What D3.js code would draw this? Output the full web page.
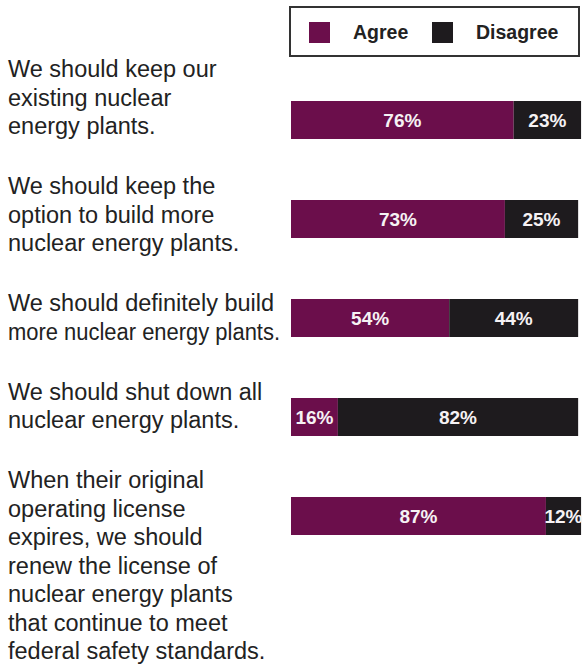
<!DOCTYPE html>
<html>
<head>
<meta charset="utf-8">
<script src="https://cdn.jsdelivr.net/npm/d3@7"></script>
<style>
  body { margin: 0; background: #fff; }
  svg { display: block; font-family: "Liberation Sans", Arial, Helvetica, sans-serif; }
</style>
</head>
<body>
<div id="chart"></div>
<script>
// survey statements, one entry per line of wrapped text
var statements = [
  ["We should keep our", "existing nuclear", "energy plants."],
  ["We should keep the", "option to build more", "nuclear energy plants."],
  ["We should definitely build", "more nuclear energy plants."],
  ["We should shut down all", "nuclear energy plants."],
  ["When their original", "operating license", "expires, we should", "renew the license of", "nuclear energy plants", "that continue to meet", "federal safety standards."]
]
var agree = [76, 73, 54, 16, 87]
var disagree = [23, 25, 44, 82, 12]
var seriesNames = ["Agree", "Disagree"]

function drawChart(){
    const width = 583
    const height = 665
    const colors = {Agree: "#6b0e4b", Disagree: "#1e1b1e"}
    const barH = 38

    const svg = d3.select('#chart')
    .append("svg")
    .attr("width", width)
    .attr("height", height)

    var rows = statements.map(function(s, i) { return i })

    var x = d3.scaleLinear()
    .domain([0, 100])
    .range([291, 291 + 293])

    var y = d3.scalePoint()
    .domain(rows)
    .range([101, 497])

    // stacked segments
    var data = rows.map(function(i) {
        return [
            {key: "Agree", x0: 0, x1: agree[i], v: agree[i], row: i},
            {key: "Disagree", x0: agree[i], x1: agree[i] + disagree[i], v: disagree[i], row: i}
        ]
    }).flat()

    svg.selectAll("rect.seg")
    .data(data)
    .enter()
    .append("rect")
    .attr("class", "seg")
    .attr("x", function(d) { return x(d.x0) })
    .attr("y", function(d) { return y(d.row) })
    .attr("width", function(d) { return x(d.x1) - x(d.x0) })
    .attr("height", barH)
    .attr("fill", function(d) { return colors[d.key] })

    svg.selectAll("text.val")
    .data(data)
    .enter()
    .append("text")
    .attr("class", "val")
    .attr("x", function(d) { return (x(d.x0) + x(d.x1)) / 2 })
    .attr("y", function(d) { return y(d.row) + barH / 2 })
    .attr("dy", "0.36em")
    .style("text-anchor", "middle")
    .style("font-size", "19px")
    .style("font-weight", "bold")
    .attr("fill", "#f6f2f4")
    .text(function(d) { return d.v + "%" })

    // statement labels, stacked blocks
    const lineH = 28.5
    const gap = 60
    const maxW = 272
    var top = 77
    statements.forEach(function(lines) {
        var t = svg.append("text")
        .attr("x", 8)
        .attr("y", top)
        .style("font-size", "23.5px")
        .attr("fill", "#222")
        lines.forEach(function(line, j) {
            var ts = t.append("tspan")
            .attr("x", 8)
            .attr("y", top + j * lineH)
            .text(line)
            // squeeze lines that would run into the bars
            if (ts.node().getComputedTextLength() > maxW) {
                ts.attr("textLength", maxW).attr("lengthAdjust", "spacingAndGlyphs")
            }
        })
        top += (lines.length - 1) * lineH + gap
    })

    // legend
    var legend = svg.append("g")
    legend.append("rect")
    .attr("x", 290)
    .attr("y", 7)
    .attr("width", 289)
    .attr("height", 49)
    .attr("fill", "none")
    .attr("stroke", "#333")
    .attr("stroke-width", 2)

    var lx = [309, 432]
    seriesNames.forEach(function(name, i) {
        legend.append("rect")
        .attr("x", lx[i])
        .attr("y", 22)
        .attr("width", 21)
        .attr("height", 21)
        .attr("fill", colors[name])
        legend.append("text")
        .attr("x", lx[i] + 44)
        .attr("y", 39)
        .style("font-size", "19.5px")
        .style("font-weight", "bold")
        .attr("fill", "#222")
        .text(name)
    })
}

drawChart()
</script>
</body>
</html>
